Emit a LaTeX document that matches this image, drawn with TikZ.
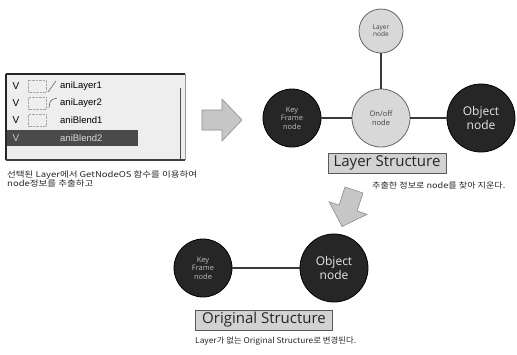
\documentclass[tikz,border=0pt]{standalone}
\usepackage{fontspec}
\setmainfont{Open Sans}
\newfontfamily\kr{Noto Sans CJK KR}
\newfontfamily\ui{Liberation Sans}
\definecolor{darkn}{HTML}{262626}
\definecolor{lightn}{HTML}{D8D8D8}
\definecolor{edgec}{HTML}{3A3A3A}
\definecolor{arrowf}{HTML}{C6C6C6}
\definecolor{labf}{HTML}{D2D2D2}
\definecolor{listbg}{HTML}{EEEEEE}
\definecolor{hil}{HTML}{4A4A4A}
\begin{document}
\begin{tikzpicture}[x=1pt,y=-1pt,
  darknode/.style={circle, fill=darkn, draw=black, line width=0.8pt, text=white, align=center, inner sep=0pt},
  lightnode/.style={circle, fill=lightn, draw=black!60, line width=0.8pt, text=black!75, align=center, inner sep=0pt},
  link/.style={draw=edgec, line width=2pt},
  labelbox/.style={draw=black!65, fill=labf, line width=1pt, inner sep=0pt, font=\fontsize{15}{16}\selectfont, text=black!85},
  caption/.style={font=\kr\fontsize{8}{8.5}\selectfont, text=black!85, inner sep=0pt, anchor=west},
  rowtext/.style={font=\ui\fontsize{9.5}{10}\selectfont, anchor=west, inner sep=0pt},
  vmark/.style={font=\ui\fontsize{10}{10}\selectfont, inner sep=0pt},
  blockarrow/.style={fill=arrowf, draw=black!45, line width=0.6pt}
]
\useasboundingbox (0,0) rectangle (517,354);

% ---------- list box ----------
\fill[listbg] (6,74) rectangle (185,160);
\fill[hil] (7,130) rectangle (138,146);
\draw[black!70, line width=0.6pt] (180,88) -- (180,160);
\draw[black!85, line width=1.6pt] (6,74) -- (185,74);
\draw[black!85, line width=2pt] (6,74) -- (6,160);
\draw[black!75, line width=1.4pt] (6,160) -- (185,160);
\draw[black!40, line width=0.6pt] (185,74) -- (185,160);
\foreach \yy in {86,103.5,120.5} {
  \draw[black!35, densely dotted] (28,\yy-6) rectangle (46,\yy+6);
}
\draw[black!60, line width=0.6pt] (48,92) -- (56,81);
\draw[black!60, line width=0.6pt] (49,108) .. controls (50,100) .. (57,98);
\node[vmark] (v1) at (16,86) {V};
\node[vmark] (v2) at (16,103.5) {V};
\node[vmark] (v3) at (16,120.5) {V};
\node[vmark, text=black!20] (v4) at (16,138) {V};
\node[rowtext] (r1) at (60,86) {aniLayer1};
\node[rowtext] (r2) at (60,103.5) {aniLayer2};
\node[rowtext] (r3) at (60,120.5) {aniBlend1};
\node[rowtext, text=black!15] (r4) at (60,138) {aniBlend2};
\node[caption] (c1a) at (7,175) {\scalebox{1.19}[1]{선택된 Layer에서 GetNodeOS 함수를 이용하여}};
\node[caption] (c1b) at (7,183.5) {\scalebox{1.19}[1]{node정보를 추출하고}};

% ---------- right block arrow ----------
\draw[blockarrow] (202,110) -- (222,110) -- (222,99) -- (242,120) -- (222,141) -- (222,130) -- (202,130) -- cycle;

% ---------- Layer Structure ----------
\node[lightnode, minimum size=44pt, font=\fontsize{6.5}{7}\selectfont] (layer) at (381,31) {Layer\\node};
\node[lightnode, minimum size=58pt, font=\fontsize{7.5}{8.5}\selectfont] (onoff) at (381,118) {On/off\\node};
\node[darknode, minimum size=58pt, font=\fontsize{7.5}{8.5}\selectfont, text=black!25] (key1) at (292,118) {Key\\Frame\\node};
\node[darknode, minimum size=68pt, font=\fontsize{12}{14}\selectfont, text=black!10] (obj1) at (481,118) {Object\\node};
\draw[link] (layer) -- (onoff);
\draw[link] (key1) -- (onoff);
\draw[link] (onoff) -- (obj1);
\node[labelbox, minimum width=118pt, minimum height=20pt] (ls) at (387,163) {Layer Structure};
\node[caption] (c2) at (372,185) {\scalebox{1.14}[1]{추출한 정보로 node를 찾아 지운다.}};

% ---------- down-left block arrow ----------
\draw[blockarrow] (345,187) -- (339.1,205.1) -- (329.1,201.8) -- (342.1,226.5) -- (367.1,214.3) -- (357.1,211.0) -- (363,193) -- cycle;

% ---------- Original Structure ----------
\node[darknode, minimum size=58pt, font=\fontsize{7.5}{8.5}\selectfont, text=black!25] (key2) at (203,268) {Key\\Frame\\node};
\node[darknode, minimum size=68pt, font=\fontsize{12}{14}\selectfont, text=black!10] (obj2) at (334,268) {Object\\node};
\draw[link] (key2) -- (obj2);
\node[labelbox, minimum width=137pt, minimum height=20pt] (os) at (264,320) {Original Structure};
\node[caption] (c3) at (195,341) {\scalebox{1.05}[1]{Layer가 없는 Original Structure로 변경된다.}};
\end{tikzpicture}
\end{document}
